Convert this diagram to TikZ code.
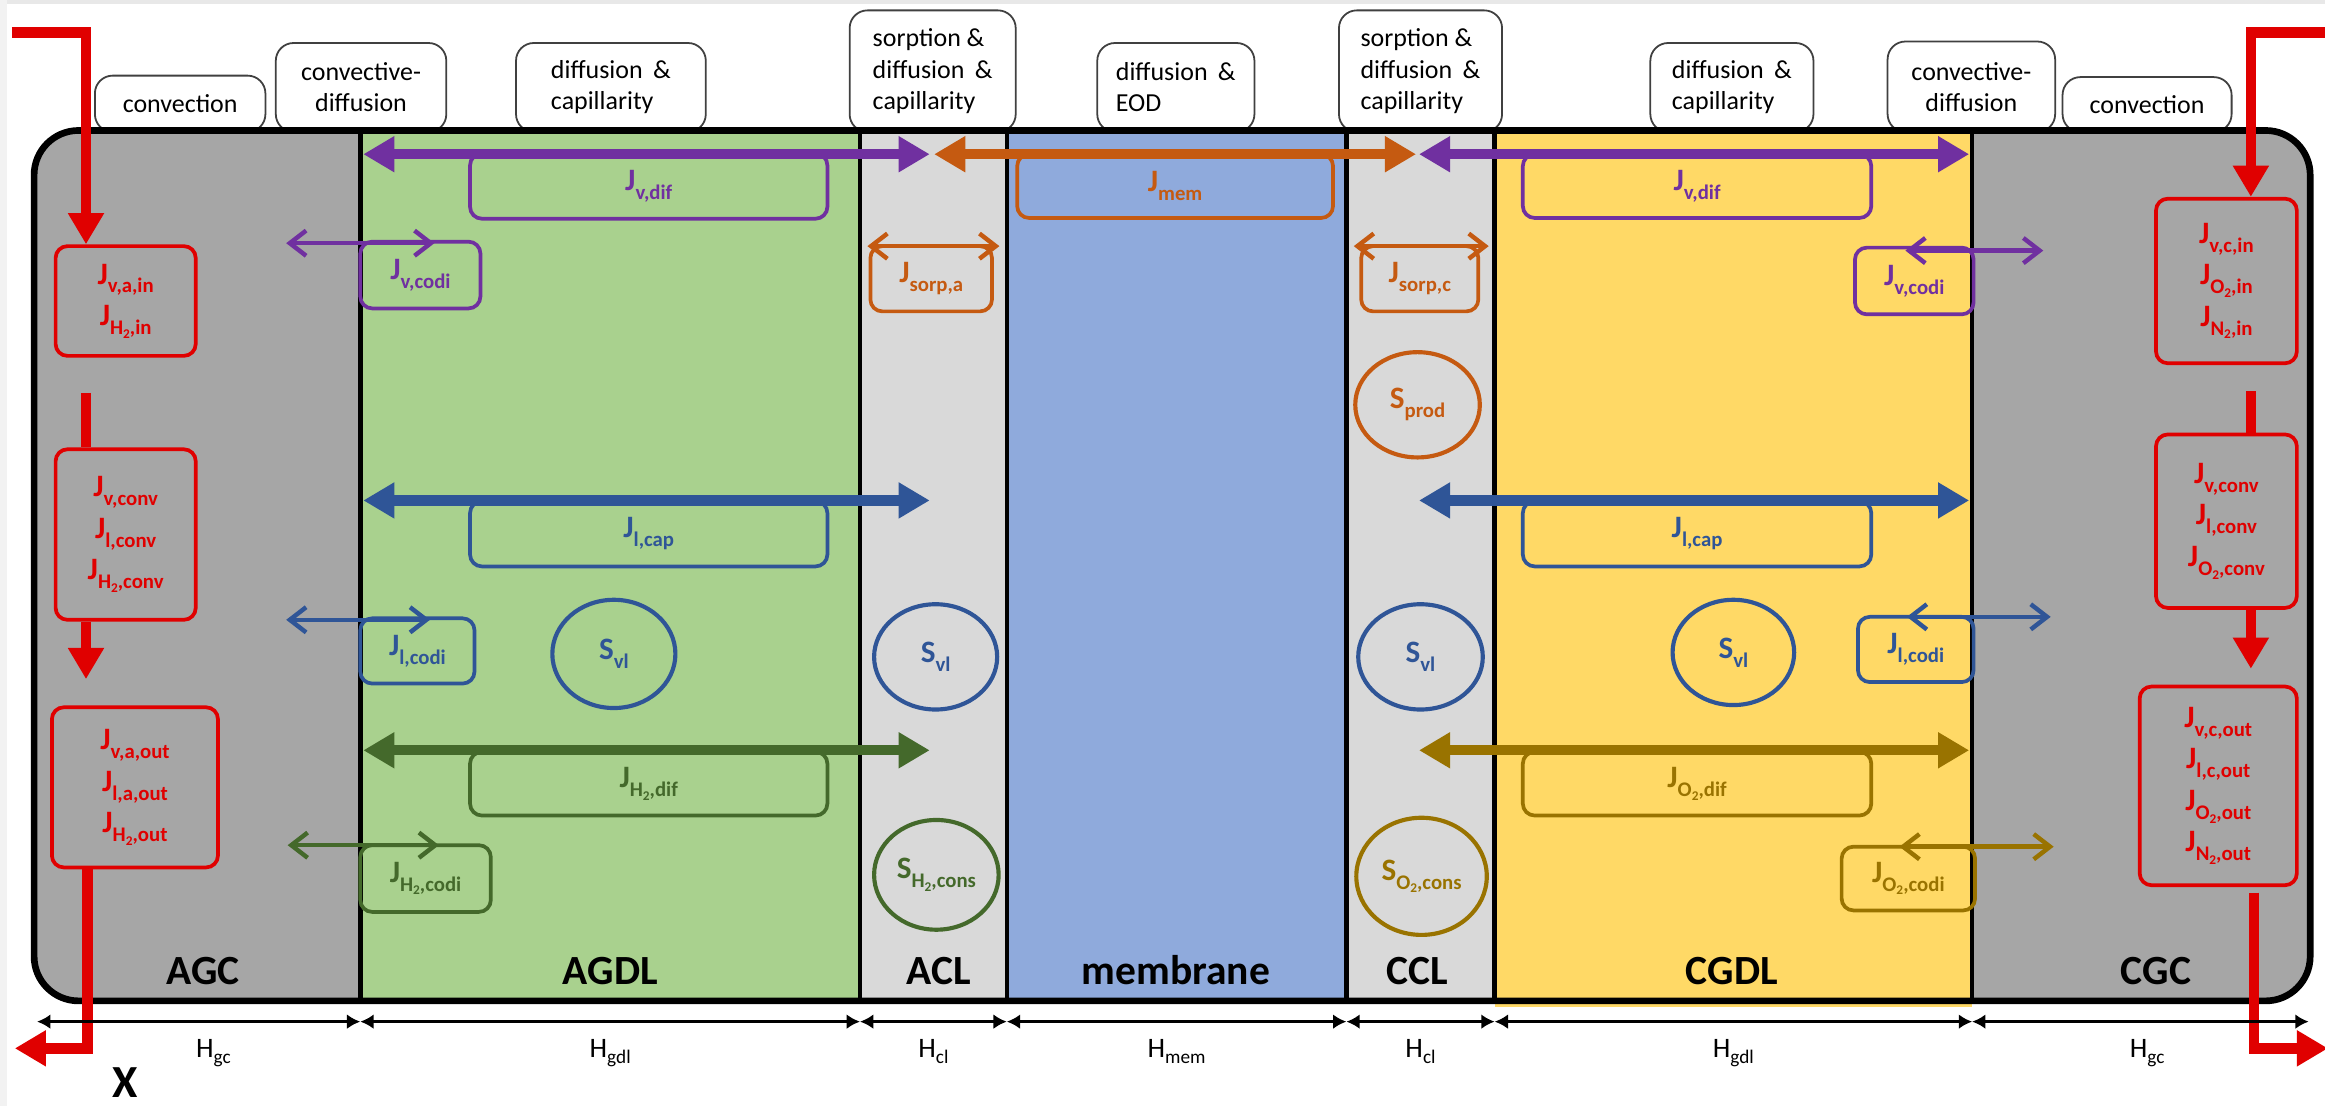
\documentclass[tikz,border=0pt]{standalone}
\usepackage{fontspec}
\setmainfont{Carlito}
\usetikzlibrary{arrows.meta,shapes.geometric,calc}

\definecolor{cpurple}{HTML}{7030A0}
\definecolor{corange}{HTML}{C55A11}
\definecolor{cblue}{HTML}{2F5597}
\definecolor{cgreen}{HTML}{44692B}
\definecolor{cgold}{HTML}{997300}
\definecolor{cred}{HTML}{E00000}
\definecolor{gcgray}{HTML}{A6A6A6}
\definecolor{clgray}{HTML}{D9D9D9}
\definecolor{gdlgreen}{HTML}{A9D18E}
\definecolor{memblue}{HTML}{8FAADC}
\definecolor{gdlyellow}{HTML}{FFD966}

\newcommand\sbx[1]{\raisebox{-6pt}{\fontsize{14}{14}\selectfont #1}}
\newcommand\two{\raisebox{-2.5pt}{\fontsize{9}{9}\selectfont 2}}
\newcommand\hsb[1]{\raisebox{-4pt}{\fontsize{13}{13}\selectfont #1}}

\tikzset{
  toplabel/.style={draw=black!75, line width=1.2pt, fill=white, rounded corners=12pt,
    font=\fontsize{17.5}{21}\selectfont, inner sep=0pt},
  jbox/.style={draw=#1, text=#1, line width=2.5pt, rounded corners=8pt,
    font=\bfseries\fontsize{21}{28}\selectfont, inner sep=0pt},
  sell/.style={ellipse, draw=#1, text=#1, line width=2.8pt,
    font=\bfseries\fontsize{21}{28}\selectfont, inner sep=0pt},
  redbox/.style={jbox=cred, align=center},
  fatarrow/.style={line width=7pt, {Triangle[length=21pt,width=23pt]}-{Triangle[length=21pt,width=23pt]}},
  thinarrow/.style={line width=3pt, {Straight Barb[length=11pt,width=17pt]}-{Straight Barb[length=11pt,width=17pt]}},
  dimarrow/.style={line width=2pt, {Latex[length=9pt,width=10pt]}-{Latex[length=9pt,width=10pt]}},
  redline/.style={cred, line width=7pt},
  redarrow/.style={cred, line width=7pt, -{Triangle[length=21pt,width=23pt]}},
  layerlabel/.style={font=\bfseries\fontsize{28}{28}\selectfont, anchor=base},
  dimlabel/.style={font=\fontsize{19}{19}\selectfont, anchor=base},
}

\begin{document}
\begin{tikzpicture}[x=1pt,y=-1pt]
\useasboundingbox (0,0) rectangle (1568,746);
\fill[white] (0,0) rectangle (1568,746);
\fill[black!9] (0,0) rectangle (1568,2.5);
\fill[black!5] (0,0) rectangle (5,746);

% ---------- top labels ----------
\node[toplabel, minimum width=115pt, minimum height=38pt] (tl1) at (121.5,70) {convection};
\node[toplabel, minimum width=115pt, minimum height=60pt, align=center] (tl2) at (243.5,59) {convective-\\diffusion};
\node[toplabel, minimum width=128pt, minimum height=60pt, align=left] (tl3) at (412,59) {diffusion\hspace{0.4em}\&\\capillarity};
\node[toplabel, minimum width=112pt, minimum height=82pt, align=left] (tl4) at (629,48) {sorption \&\\diffusion\hspace{0.4em}\&\\capillarity};
\node[toplabel, minimum width=106pt, minimum height=60pt, align=left] (tl5) at (793,59) {diffusion\hspace{0.4em}\&\\EOD};
\node[toplabel, minimum width=110pt, minimum height=82pt, align=left] (tl6) at (958,48) {sorption \&\\diffusion\hspace{0.4em}\&\\capillarity};
\node[toplabel, minimum width=110pt, minimum height=60pt, align=left] (tl7) at (1168,59) {diffusion\hspace{0.4em}\&\\capillarity};
\node[toplabel, minimum width=113pt, minimum height=61pt, align=center] (tl8) at (1329.5,58.5) {convective-\\diffusion};
\node[toplabel, minimum width=114pt, minimum height=37pt] (tl9) at (1448,70.5) {convection};

% ---------- layers ----------
\fill[gcgray, rounded corners=30pt] (23,88) rectangle (1558,675);
\fill[gdlgreen] (243,88) rectangle (580,675);
\fill[clgray] (580,88) rectangle (679,675);
\fill[memblue] (679,88) rectangle (908,675);
\fill[clgray] (908,88) rectangle (1008,675);
\fill[gdlyellow] (1008,88) rectangle (1330,679);
\foreach \xx in {243,580,679,908,1008,1330}
  \draw[line width=3pt] (\xx,88) -- (\xx,675);
\draw[line width=4.5pt, rounded corners=30pt] (23,88) rectangle (1558,675);

% layer labels
\node[layerlabel] (lAGC) at (137,664) {AGC};
\node[layerlabel] (lAGDL) at (411.6,664) {AGDL};
\node[layerlabel] (lACL) at (633,664) {ACL};
\node[layerlabel] (lMEM) at (793,664) {membrane};
\node[layerlabel] (lCCL) at (956,664) {CCL};
\node[layerlabel] (lCGDL) at (1168,664) {CGDL};
\node[layerlabel] (lCGC) at (1454,664) {CGC};

% ---------- flux boxes ----------
\node[jbox=cpurple, minimum width=241pt, minimum height=44pt] (Jvdifa) at (437.5,125.5) {J\sbx{v,dif}};
\node[jbox=corange, minimum width=213pt, minimum height=43pt] (Jmem) at (792.5,125.5) {J\sbx{mem}};
\node[jbox=cpurple, minimum width=235pt, minimum height=43pt] (Jvdifc) at (1144.5,125.5) {J\sbx{v,dif}};
\node[jbox=cblue, minimum width=241pt, minimum height=44pt] (Jlcapa) at (437.5,360) {J\sbx{l,cap}};
\node[jbox=cblue, minimum width=235pt, minimum height=44pt] (Jlcapc) at (1144.5,360) {J\sbx{l,cap}};
\node[jbox=cgreen, minimum width=241pt, minimum height=43pt] (JHdif) at (437.5,528.5) {J\sbx{H\two,dif}};
\node[jbox=cgold, minimum width=235pt, minimum height=43pt] (JOdif) at (1144.5,528.5) {J\sbx{O\two,dif}};

\node[jbox=cpurple, minimum width=81pt, minimum height=45pt] (Jvcodia) at (283.5,185.5) {J\sbx{v,codi}};
\node[jbox=cpurple, minimum width=80pt, minimum height=45pt] (Jvcodic) at (1291,189.5) {J\sbx{v,codi}};
\node[jbox=cblue, minimum width=77pt, minimum height=44pt] (Jlcodia) at (281.5,439) {J\sbx{l,codi}};
\node[jbox=cblue, minimum width=78pt, minimum height=44pt] (Jlcodic) at (1292,438) {J\sbx{l,codi}};
\node[jbox=cgreen, minimum width=88pt, minimum height=45pt] (JHcodi) at (287,592.5) {J\sbx{H\two,codi}};
\node[jbox=cgold, minimum width=90pt, minimum height=43pt] (JOcodi) at (1287,592.5) {J\sbx{O\two,codi}};
\node[jbox=corange, minimum width=82pt, minimum height=44pt] (Jsorpa) at (628,188) {J\sbx{sorp,a}};
\node[jbox=corange, minimum width=79pt, minimum height=44pt] (Jsorpc) at (957.5,188) {J\sbx{sorp,c}};

% source ellipses
\node[sell=corange, minimum width=84pt, minimum height=71pt] (Sprod) at (956,273) {S\sbx{prod}};
\node[sell=cblue, minimum width=83pt, minimum height=73pt] (Svla) at (414,441) {S\sbx{vl}};
\node[sell=cblue, minimum width=83pt, minimum height=71pt] (Svlacl) at (631,443) {S\sbx{vl}};
\node[sell=cblue, minimum width=84pt, minimum height=71pt] (Svlccl) at (958,443) {S\sbx{vl}};
\node[sell=cblue, minimum width=82pt, minimum height=71pt] (Svlc) at (1169,440) {S\sbx{vl}};
\node[sell=cgreen, minimum width=84pt, minimum height=74pt] (SHcons) at (631.5,590) {S\sbx{H\two,cons}};
\node[sell=cgold, minimum width=88pt, minimum height=79pt] (SOcons) at (958.7,591) {S\sbx{O\two,cons}};

% ---------- fat arrows ----------
\coordinate (r1a) at (245,104);  \coordinate (r1b) at (627,104);
\coordinate (r1c) at (630,104);  \coordinate (r1d) at (955,104);
\coordinate (r1e) at (957,104);  \coordinate (r1f) at (1328,104);
\coordinate (r2a) at (245,337.5);\coordinate (r2b) at (627,337.5);
\coordinate (r2e) at (957,337.5);\coordinate (r2f) at (1328,337.5);
\coordinate (r3a) at (245,506);  \coordinate (r3b) at (627,506);
\coordinate (r3e) at (957,506);  \coordinate (r3f) at (1328,506);
\draw[fatarrow, cpurple] (r1a) -- (r1b);
\draw[fatarrow, corange] (r1c) -- (r1d);
\draw[fatarrow, cpurple] (r1e) -- (r1f);
\draw[fatarrow, cblue] (r2a) -- (r2b);
\draw[fatarrow, cblue] (r2e) -- (r2f);
\draw[fatarrow, cgreen] (r3a) -- (r3b);
\draw[fatarrow, cgold] (r3e) -- (r3f);

% ---------- thin double arrows ----------
\coordinate (va1) at (193,164);  \coordinate (va2) at (293,164);
\coordinate (vc1) at (1285,169); \coordinate (vc2) at (1378,169);
\coordinate (la1) at (193,418);  \coordinate (la2) at (290,418);
\coordinate (lc1) at (1286,416); \coordinate (lc2) at (1383,416);
\coordinate (ha1) at (194,570);  \coordinate (ha2) at (296,570);
\coordinate (oc1) at (1281,571); \coordinate (oc2) at (1385,571);
\coordinate (sa1) at (585,166);  \coordinate (sa2) at (674,166);
\coordinate (sc1) at (913,166);  \coordinate (sc2) at (1004,166);
\draw[thinarrow, cpurple] (va1) -- (va2);
\draw[thinarrow, cpurple] (vc1) -- (vc2);
\draw[thinarrow, cblue] (la1) -- (la2);
\draw[thinarrow, cblue] (lc1) -- (lc2);
\draw[thinarrow, cgreen] (ha1) -- (ha2);
\draw[thinarrow, cgold] (oc1) -- (oc2);
\draw[thinarrow, corange] (sa1) -- (sa2);
\draw[thinarrow, corange] (sc1) -- (sc2);

% ---------- red gas channel boxes ----------
\node[redbox, minimum width=94.5pt, minimum height=74pt] (RL1) at (84.75,203) {J\sbx{v,a,in}\\J\sbx{H\two,in}};
\node[redbox, minimum width=94.5pt, minimum height=115pt] (RL2) at (84.75,360.5) {J\sbx{v,conv}\\J\sbx{l,conv}\\J\sbx{H\two,conv}};
\node[redbox, minimum width=112pt, minimum height=108pt] (RL3) at (91,531) {J\sbx{v,a,out}\\J\sbx{l,a,out}\\J\sbx{H\two,out}};
\node[redbox, minimum width=95pt, minimum height=111pt] (RR1) at (1501.5,189.5) {J\sbx{v,c,in}\\J\sbx{O\two,in}\\J\sbx{N\two,in}};
\node[redbox, minimum width=95pt, minimum height=117pt] (RR2) at (1501.5,351.5) {J\sbx{v,conv}\\J\sbx{l,conv}\\J\sbx{O\two,conv}};
\node[redbox, minimum width=106pt, minimum height=134pt] (RR3) at (1496,530) {J\sbx{v,c,out}\\J\sbx{l,c,out}\\J\sbx{O\two,out}\\J\sbx{N\two,out}};

% red flow paths (left)
\coordinate (inL) at (8,22);
\coordinate (xL) at (58,0);
\coordinate (xL2) at (59,0);
\coordinate (midL) at (58,265);
\coordinate (tipL) at (58,458);
\coordinate (outL) at (10,707);
\draw[redarrow] (inL) -| (xL |- RL1.north);
\draw[redline] (midL) -- (xL |- RL2.north);
\draw[redarrow] (xL |- RL2.south) -- (tipL);
\draw[redarrow] (xL2 |- RL3.south) |- (outL);

% red flow paths (right)
\coordinate (inR) at (1570,22);
\coordinate (xR) at (1518,0);
\coordinate (midR) at (1518,264);
\coordinate (tipR) at (1518,451);
\coordinate (startR3) at (1520,602);
\coordinate (outR) at (1570,707);
\draw[redarrow] (inR) -| (xR |- RR1.north);
\draw[redline] (midR) -- (xR |- RR2.north);
\draw[redarrow] (xR |- RR2.south) -- (tipR);
\draw[redarrow] (startR3) |- (outR);

% ---------- dimensions ----------
\foreach \nm/\xx in {0/25,1/243,2/580,3/679,4/908,5/1008,6/1330,7/1557}
  \coordinate (dm\nm) at (\xx,689);
\draw[dimarrow] (dm0) -- (dm1);
\draw[dimarrow] (dm1) -- (dm2);
\draw[dimarrow] (dm2) -- (dm3);
\draw[dimarrow] (dm3) -- (dm4);
\draw[dimarrow] (dm4) -- (dm5);
\draw[dimarrow] (dm5) -- (dm6);
\draw[dimarrow] (dm6) -- (dm7);
\node[dimlabel] (h1) at (144,713) {H\hsb{gc}};
\node[dimlabel] (h2) at (411.5,713) {H\hsb{gdl}};
\node[dimlabel] (h3) at (629.5,713) {H\hsb{cl}};
\node[dimlabel] (h4) at (793.5,713) {H\hsb{mem}};
\node[dimlabel] (h5) at (958,713) {H\hsb{cl}};
\node[dimlabel] (h6) at (1169,713) {H\hsb{gdl}};
\node[dimlabel] (h7) at (1448,713) {H\hsb{gc}};

\node[font=\bfseries\fontsize{31}{31}\selectfont, anchor=base, inner sep=0pt] (xlab) at (84.5,740) {X};
\end{tikzpicture}
\end{document}
